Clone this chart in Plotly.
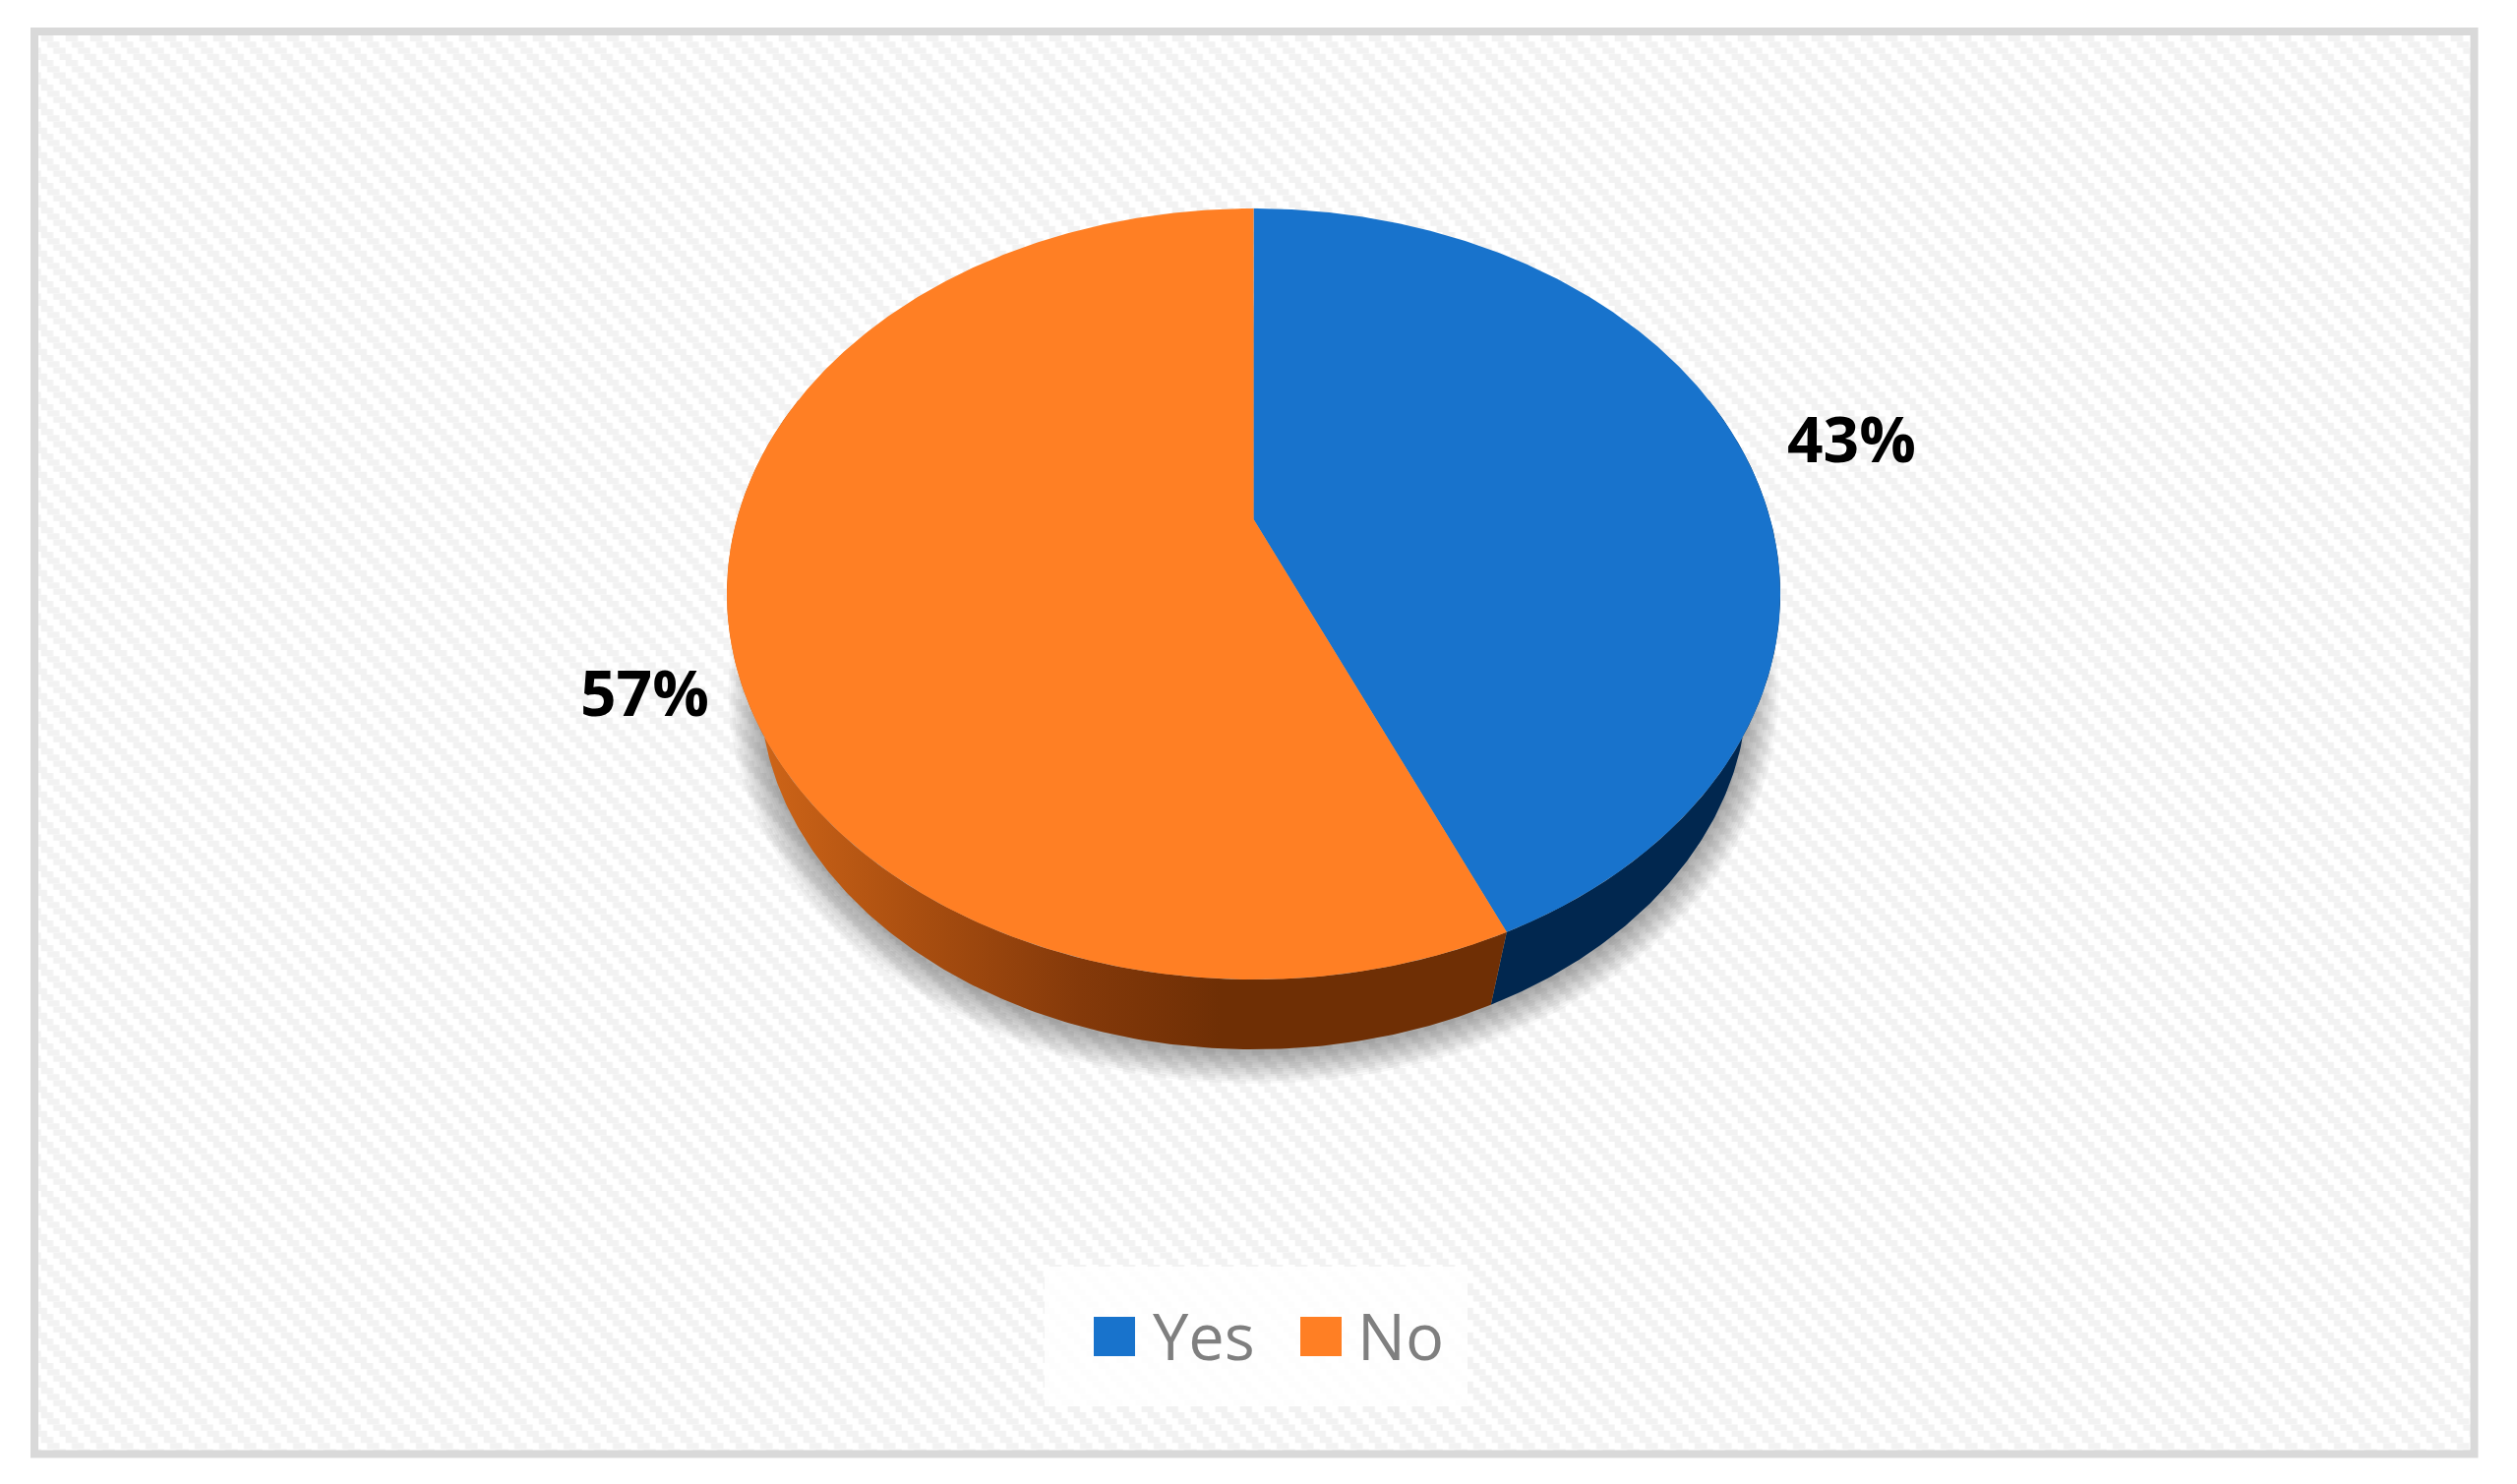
import base64
import numpy as np
import plotly.graph_objects as go

# ---- data ----
categories = ["Yes", "No"]
shares = [43.4, 56.6]
slice_colors = ["#1873cc", "#ff7f24"]
wall_colors = ["#01274f", "#6f2f05"]
label_colors = "#000000"
legend_text_color = "#7f7f7f"

W, H = 2559, 1509
# projected geometry of the tilted disc (pixel axes)
CX, TOP_A, TOP_B, TOP_CY = 1274.5, 535.5, 392.0, 604.0
BOT_A, BOT_B, BOT_CY = 502.0, 367.5, 699.5
V = 0.194


def project(theta_deg, a, b, cy):
    t = np.radians(np.asarray(theta_deg, dtype=float))
    X, Y = np.sin(t), np.cos(t)
    d = 1 + V * Y
    return CX + a * X * np.sqrt(1 - V ** 2) / d, cy - b * (Y + V) / d


def arc(start, end, a, b, cy):
    n = max(int(abs(end - start)) * 2, 2)
    return project(np.linspace(start, end, n), a, b, cy)


boundary = shares[0] / sum(shares) * 360

# background texture as an svg tile
TILE = 25
rects = ""
for i in range(4):
    for shift in (-TILE, 0):
        rects += (f'<rect x="{i * TILE / 4 + shift}" y="{i * TILE / 4}" '
                  f'width="{TILE / 2}" height="{TILE / 4}" fill="#f2f2f2"/>')
PW, PH = 2473, 1439
svg = (f'<svg xmlns="http://www.w3.org/2000/svg" width="{PW}" height="{PH}" viewBox="0 0 {PW} {PH}">'
       f'<defs><pattern id="p" width="{TILE}" height="{TILE}" patternUnits="userSpaceOnUse" '
       f'patternTransform="translate(2.7,0)">{rects}</pattern></defs>'
       f'<rect width="{PW}" height="{PH}" fill="#ffffff"/><rect width="{PW}" height="{PH}" fill="url(#p)"/></svg>')
bg_src = "data:image/svg+xml;base64," + base64.b64encode(svg.encode()).decode()

fig = go.Figure()

# soft shadow
for e in np.arange(32, 0, -2.4):
    t = np.radians(np.linspace(0, 360, 361))
    fig.add_trace(go.Scatter(
        x=CX + (BOT_A + e) * np.sin(t), y=BOT_CY + 3 + (BOT_B + e) * np.cos(t),
        mode="lines", line=dict(width=0), fill="toself",
        fillcolor="rgba(60,60,60,0.035)", hoverinfo="skip", showlegend=False))

# side walls
bx, by = arc(boundary, 70, BOT_A, BOT_B, BOT_CY)
tx, ty = arc(70, boundary, TOP_A, TOP_B, TOP_CY)
fig.add_trace(go.Scatter(
    x=np.r_[bx, tx], y=np.r_[by, ty], mode="lines", line=dict(width=0), fill="toself",
    fillcolor=wall_colors[0], hoverinfo="skip", showlegend=False))

bx, by = arc(boundary, 290, BOT_A, BOT_B, BOT_CY)
tx, ty = arc(290, boundary, TOP_A, TOP_B, TOP_CY)
fig.add_trace(go.Scatter(
    x=np.r_[bx, tx], y=np.r_[by, ty], mode="lines", line=dict(width=0), fill="toself",
    fillgradient=dict(type="horizontal", start=770, stop=1240,
                      colorscale=[[0, "#cf6518"], [0.35, "#a94e10"], [0.7, "#84390a"], [1, wall_colors[1]]]),
    hoverinfo="skip", showlegend=False))

# top slices
apex_y = TOP_CY - TOP_B * V
spans = [(0, boundary), (boundary, 360)]
for name, color, (s, e) in zip(categories, slice_colors, spans):
    ax, ay = arc(s, e, TOP_A, TOP_B, TOP_CY)
    fig.add_trace(go.Scatter(
        x=np.r_[CX, ax, CX], y=np.r_[apex_y, ay, apex_y], name=name,
        mode="lines", line=dict(width=0), fill="toself", fillcolor=color,
        hoverinfo="name", showlegend=False))

label_pos = [(1882, 445), (655.5, 703)]
annotations = [
    dict(x=x, y=y, xref="x", yref="y", text=f"{round(v)}%", showarrow=False, xanchor="center", yanchor="middle",
         font=dict(family="Open Sans", size=64, color=label_colors, weight="bold"))
    for v, (x, y) in zip(shares, label_pos)
]

# legend
legend_slots = [(1112, 1174), (1322, 1382)]
shapes = [
    dict(type="rect", xref="x", yref="y", x0=35, y0=32, x1=2515.5, y1=1478.5,
         line=dict(color="#d9d9d9", width=8), fillcolor="rgba(0,0,0,0)", layer="above"),
    dict(type="rect", xref="x", yref="y", x0=1062, y0=1288, x1=1492, y1=1430,
         line=dict(width=0), fillcolor="rgba(255,255,255,0.85)", layer="above"),
]
for name, color, (sx, tx0) in zip(categories, slice_colors, legend_slots):
    shapes.append(dict(type="rect", xref="x", yref="y", x0=sx, y0=1339, x1=sx + 42, y1=1379,
                       line=dict(width=0), fillcolor=color, layer="above"))
    annotations.append(dict(x=tx0, y=1358, xref="x", yref="y", text=name, showarrow=False,
                            xanchor="left", yanchor="middle", xshift=-4,
                            font=dict(family="Open Sans", size=65, color=legend_text_color)))

fig.update_layout(
    width=W, height=H, margin=dict(l=0, r=0, t=0, b=0),
    paper_bgcolor="#ffffff", plot_bgcolor="#ffffff", showlegend=False,
    xaxis=dict(range=[0, W], visible=False, fixedrange=True),
    yaxis=dict(range=[H, 0], visible=False, fixedrange=True),
    images=[dict(source=bg_src, xref="x", yref="y", x=39, y=36, sizex=PW, sizey=PH,
                 xanchor="left", yanchor="top", sizing="stretch", layer="below")],
    shapes=shapes, annotations=annotations,
)

fig.write_html("out.html", config=dict(displayModeBar=False),
               post_script="document.body.style.margin='0';document.body.style.overflow='hidden';")
